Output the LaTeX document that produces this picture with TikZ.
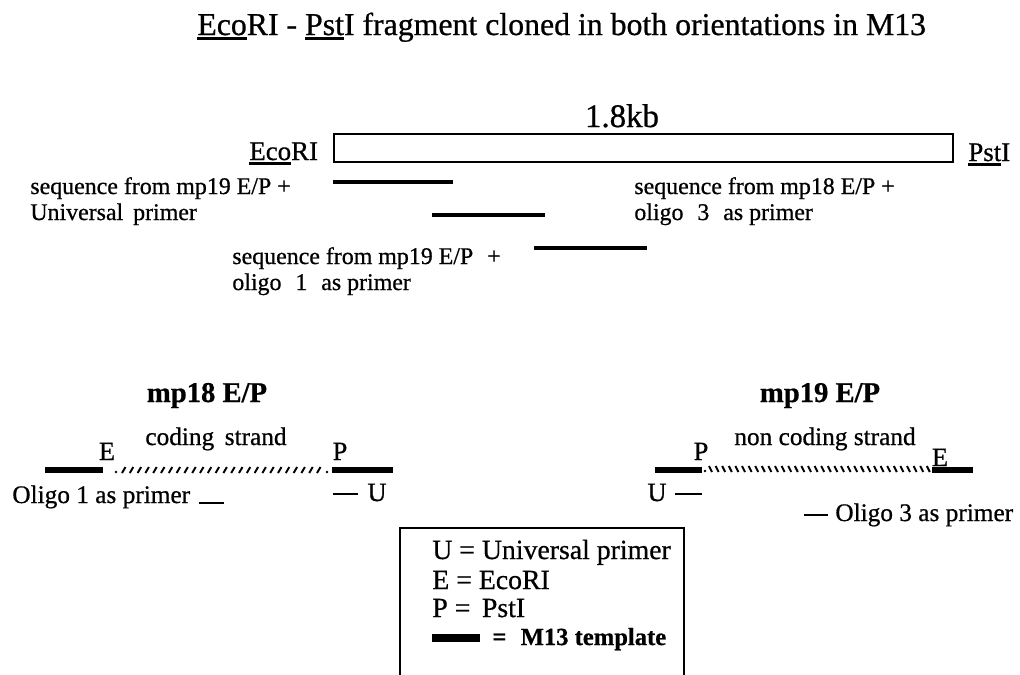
\documentclass[tikz,border=0pt]{standalone}
\usepackage{fontspec}
\setmainfont{Liberation Serif}[FakeBold=0.7]
\usetikzlibrary{positioning}

% underline with a heavier rule, as in the figure
\newcommand{\ulbar}[1]{\leavevmode\setbox0=\hbox{#1}\rlap{\rule[-2.6pt]{\wd0}{1.3pt}}\box0}

\begin{document}
\begin{tikzpicture}[
  x=0.02cm, y=-0.02cm,
  txt/.style     = {inner sep=0pt, anchor=base west},
  ttltxt/.style  = {txt, font=\fontsize{18.1}{20}\selectfont},
  site/.style    = {txt, font=\fontsize{15.3}{17}\selectfont},
  seqlbl/.style  = {txt, font=\fontsize{13.6}{15}\selectfont},
  head/.style    = {inner sep=0pt, anchor=base, font=\bfseries\fontsize{16.3}{18}\selectfont},
  strand/.style  = {inner sep=0pt, anchor=base, font=\fontsize{14.4}{16}\selectfont},
  endlbl/.style  = {inner sep=0pt, anchor=base, font=\fontsize{15}{17}\selectfont},
  keylbl/.style  = {txt, font=\fontsize{15.8}{18}\selectfont},
  seqbar/.style  = {line width=2.3pt},
  m13bar/.style  = {line width=3.4pt},
  primer/.style  = {line width=1.2pt},
  hatch/.style   = {line width=1.1pt},
]
  \useasboundingbox (0,0) rectangle (1020,674);

  % title
  \node[ttltxt] (ttl) at (197,35) {\ulbar{Eco}RI - \ulbar{Pst}I fragment cloned in both orientations in M13};

  % the fragment
  \draw[line width=1.1pt] (334,134) rectangle (953,162);
  \node[inner sep=0pt, anchor=base, font=\fontsize{18.7}{20}\selectfont] (size) at (622,127) {1.8kb};
  \node[site] (ecoL) at (249,160) {\ulbar{Eco}RI};
  \node[site] (pstR) at (968,161) {\ulbar{Pst}I};

  % sequenced stretches
  \draw[seqbar] (333,182) -- (453,182);
  \draw[seqbar] (432,215) -- (545,215);
  \draw[seqbar] (534,248) -- (647,248);

  \node[seqlbl] (univ1) at (30,194)  {sequence from mp19 E/P +};
  \node[seqlbl] (univ2) at (30,220)  {Universal\, primer};
  \node[seqlbl] (olg31) at (634,194) {sequence from mp18 E/P +};
  \node[seqlbl] (olg32) at (634,220) {oligo\,\, 3\,\, as primer};
  \node[seqlbl] (olg11) at (232,264) {sequence from mp19 E/P\,\, +};
  \node[seqlbl] (olg12) at (232,290) {oligo\,\, 1\,\, as primer};

  % the two clones
  \node[head] (mp18) at (207,402) {mp18 E/P};
  \node[head] (mp19) at (820,402) {mp19 E/P};

  % mp18: coding strand
  \node[strand] (cod) at (216,445) {coding\, strand};
  \draw[m13bar] (45,470) -- (103,470);
  \draw[m13bar] (332,470) -- (393,470);
  \fill (116,472) circle (1.3);
  \fill (327,472) circle (1.3);
  \foreach \i in {0,...,25}
    \draw[hatch] ({122+\i*7.8},473) -- ++(3.5,-6);
  \node[endlbl] (eL) at (107,460) {E};
  \node[endlbl] (pL) at (340,460) {P};

  \node[strand, anchor=base west] (oli1) at (12,503) {Oligo 1 as primer};
  \draw[primer] (199,503) -- (224,503);
  \draw[primer] (333,494) -- (358,494);
  \node[endlbl] (uL) at (377,501) {U};

  % mp19: non coding strand
  \node[strand] (ncod) at (825,445) {non coding strand};
  \draw[m13bar] (655,470) -- (702,470);
  \draw[m13bar] (932,470) -- (973,470);
  \fill (705,471) circle (1.3);
  \foreach \i in {0,...,33}
    \draw[hatch] ({709+\i*6.6},466) -- ++(3,6);
  \node[endlbl] (pR) at (701,460) {P};
  \node[endlbl] (eR) at (940,466) {E};

  \node[endlbl] (uR) at (657,501) {U};
  \draw[primer] (675,494) -- (702,494);
  \draw[primer] (804,515) -- (828,515);
  \node[strand, anchor=base west] (oli3) at (835,521) {Oligo 3 as primer};

  % key
  \draw[line width=1.1pt] (400,690) |- (684,528) -- (684,690);
  \node[keylbl] (keyU) at (432,559) {U = Universal primer};
  \node[keylbl] (keyE) at (432,589) {E = EcoRI};
  \node[keylbl] (keyP) at (432,617) {P =\, PstI};
  \draw[line width=4.5pt] (432,638) -- (480,638);
  \node[keylbl, font=\bfseries\fontsize{14}{16}\selectfont] (keyM) at (492,645) {=\,\, M13 template};
\end{tikzpicture}
\end{document}
